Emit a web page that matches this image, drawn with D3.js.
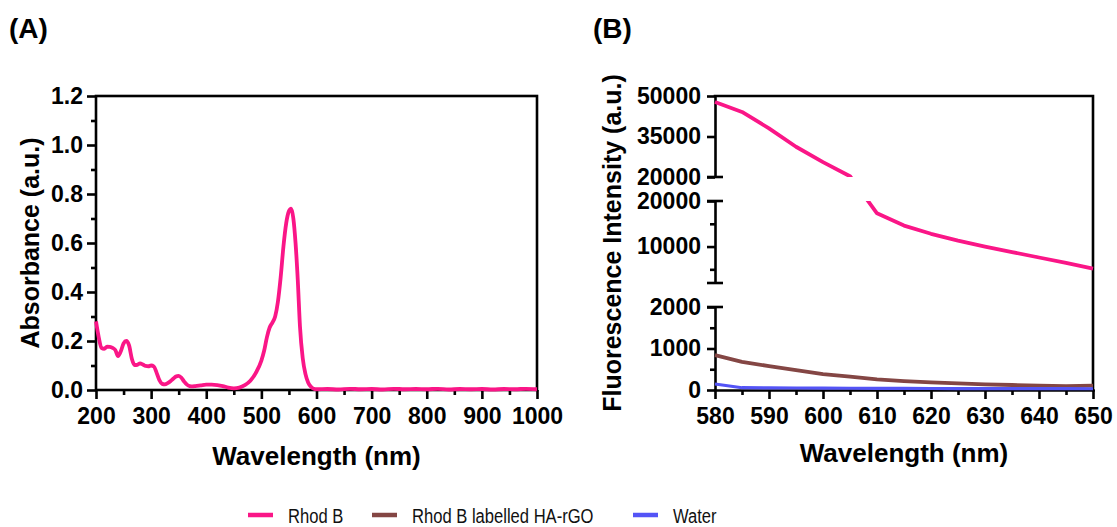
<!DOCTYPE html>
<html>
<head>
<meta charset="utf-8">
<script src="https://cdn.jsdelivr.net/npm/d3@7"></script>
<style>
  body { margin: 0; background: #fff; }
  svg { display: block; font-family: "Liberation Sans", Arial, Helvetica, sans-serif; }
</style>
</head>
<body>
<svg id="chart" width="1117" height="527"></svg>
<script>
// ---------- Panel A: UV-Vis absorbance of Rhodamine B ----------
const absWavelength = [200, 205, 210, 215, 220, 225, 230, 235, 240, 245, 250, 255, 260, 265, 270, 275, 280, 285, 290, 295,
  300, 305, 310, 315, 320, 325, 330, 335, 340, 345, 350, 355, 360, 365, 370, 375, 380, 390, 400, 410,
  420, 430, 440, 450, 460, 470, 480, 490, 500, 505, 510, 515, 520, 525, 530, 535, 540, 545, 550, 554,
  558, 562, 566, 570, 575, 580, 585, 590, 595, 600, 620, 640, 660, 680, 700, 720, 740, 760, 780, 800,
  820, 840, 860, 880, 900, 920, 940, 960, 980, 1000];
const absRhodB = [0.280, 0.215, 0.172, 0.168, 0.177, 0.176, 0.172, 0.163, 0.138, 0.158, 0.190, 0.200, 0.182, 0.128, 0.102, 0.103, 0.109, 0.104, 0.098, 0.097,
  0.100, 0.096, 0.070, 0.040, 0.025, 0.023, 0.028, 0.036, 0.046, 0.055, 0.058, 0.050, 0.034, 0.022, 0.016, 0.015, 0.016, 0.019, 0.022, 0.022,
  0.020, 0.016, 0.010, 0.007, 0.010, 0.020, 0.038, 0.070, 0.120, 0.160, 0.215, 0.255, 0.275, 0.300, 0.360, 0.460, 0.585, 0.680, 0.730, 0.740,
  0.700, 0.600, 0.450, 0.260, 0.130, 0.065, 0.030, 0.013, 0.005, 0.003, 0.004, 0.002, 0.005, 0.003, 0.004, 0.002, 0.005, 0.003, 0.004, 0.003,
  0.005, 0.002, 0.004, 0.003, 0.004, 0.002, 0.004, 0.003, 0.005, 0.003];
const absXTicks = [200, 300, 400, 500, 600, 700, 800, 900, 1000];
const absXMinorTicks = [250, 350, 450, 550, 650, 750, 850, 950];
const absYTicks = [0, 0.2, 0.4, 0.6, 0.8, 1.0, 1.2];
const absYMinorTicks = [0.1, 0.3, 0.5, 0.7, 0.9, 1.1];

// ---------- Panel B: fluorescence emission, 5 nm steps ----------
const flWavelength = [580, 585, 590, 595, 600, 605, 610, 615, 620, 625, 630, 635, 640, 645, 650];
const flRhodB = [47800, 44100, 38000, 31200, 25500, 20300, 17300, 14600, 12800, 11300, 10000, 8800, 7600, 6400, 5150];
const flRhodBHArGO = [840, 680, 575, 480, 385, 320, 258, 216, 184, 160, 136, 120, 104, 90, 104];
const flWater = [145, 55, 52, 48, 45, 42, 40, 38, 36, 35, 34, 33, 32, 31, 30];
const flXTicks = [580, 590, 600, 610, 620, 630, 640, 650];
const flXMinorTicks = [585, 595, 605, 615, 625, 635, 645];

// Broken y axis: three value ranges stacked top to bottom
const flRangeTop = [20000, 50000];
const flRangeMid = [2000, 20000];
const flRangeLow = [0, 2000];
const flYTicksTop = [20000, 35000, 50000];
const flYTicksMid = [10000, 20000];
const flYMinorMid = [5000, 15000];
const flYTicksLow = [0, 1000, 2000];
const flYMinorLow = [500, 1500];

const seriesNames = ["Rhod B", "Rhod B labelled HA-rGO", "Water"];
const seriesColors = ["#FA1687", "#844644", "#5454F6"];

// ---------- drawing ----------
const svg = d3.select("#chart");
const FONT = '"Liberation Sans", Arial, Helvetica, sans-serif';
const AXW = 2.6;

function styleAxis(g, fontSize) {
  g.attr("font-family", FONT).attr("font-size", fontSize).attr("font-weight", "bold");
  g.selectAll(".domain").attr("stroke", "#000").attr("stroke-width", AXW);
  g.selectAll(".tick line").attr("stroke", "#000").attr("stroke-width", AXW);
  g.selectAll(".tick text").attr("fill", "#000");
  return g;
}

function minorAxis(axis, values, size) {
  return axis.tickValues(values).tickSize(size).tickFormat("");
}

// ===== Panel A =====
const A = { left: 96, right: 537, top: 96, bottom: 390 };
const xA = d3.scaleLinear().domain([200, 1000]).range([A.left, A.right]);
const yA = d3.scaleLinear().domain([0, 1.2]).range([A.bottom, A.top]);

const gA = svg.append("g");

// frame
gA.append("rect")
  .attr("x", A.left).attr("y", A.top)
  .attr("width", A.right - A.left).attr("height", A.bottom - A.top)
  .attr("fill", "none").attr("stroke", "#000").attr("stroke-width", AXW);

styleAxis(gA.append("g").attr("transform", `translate(0,${A.bottom})`)
  .call(d3.axisBottom(xA).tickValues(absXTicks).tickSize(9).tickPadding(9).tickSizeOuter(0).tickFormat(d3.format("d"))), 23)
  .select(".domain").remove();
styleAxis(gA.append("g").attr("transform", `translate(0,${A.bottom})`)
  .call(minorAxis(d3.axisBottom(xA), absXMinorTicks, 5)), 23)
  .select(".domain").remove();
styleAxis(gA.append("g").attr("transform", `translate(${A.left},0)`)
  .call(d3.axisLeft(yA).tickValues(absYTicks).tickSize(9).tickPadding(4).tickSizeOuter(0).tickFormat(d3.format(".1f"))), 23)
  .select(".domain").remove();
styleAxis(gA.append("g").attr("transform", `translate(${A.left},0)`)
  .call(minorAxis(d3.axisLeft(yA), absYMinorTicks, 5)), 23)
  .select(".domain").remove();

const absData = absWavelength.map((w, i) => ({ x: w, y: absRhodB[i] }));
gA.append("path")
  .datum(absData)
  .attr("fill", "none")
  .attr("stroke", seriesColors[0])
  .attr("stroke-width", 3.8)
  .attr("stroke-linejoin", "round")
  .attr("d", d3.line().x(d => xA(d.x)).y(d => yA(d.y)).curve(d3.curveMonotoneX));

gA.append("text")
  .attr("x", (A.left + A.right) / 2).attr("y", 465)
  .attr("text-anchor", "middle")
  .attr("font-size", 26).attr("font-weight", "bold").attr("font-family", FONT)
  .text("Wavelength (nm)");
gA.append("text")
  .attr("transform", `translate(39,${(A.top + A.bottom) / 2}) rotate(-90)`)
  .attr("text-anchor", "middle")
  .attr("font-size", 25).attr("font-weight", "bold").attr("font-family", FONT)
  .text("Absorbance (a.u.)");
gA.append("text")
  .attr("x", 9).attr("y", 38)
  .attr("font-size", 28).attr("font-weight", "bold").attr("font-family", FONT)
  .text("(A)");

// ===== Panel B =====
const B = { left: 715, right: 1093, top: 96, bottom: 390 };
const xB = d3.scaleLinear().domain([580, 650]).range([B.left, B.right]);
const segTop = d3.scaleLinear().domain(flRangeTop).range([177, B.top]);
const segMid = d3.scaleLinear().domain(flRangeMid).range([283, 201]);
const segLow = d3.scaleLinear().domain(flRangeLow).range([B.bottom, 307]);
function yB(v) {
  if (v >= flRangeTop[0]) return segTop(v);
  if (v >= flRangeMid[0]) return segMid(v);
  return segLow(v);
}

const gB = svg.append("g");

// top and right frame edges
gB.append("path")
  .attr("d", `M${B.left},${B.top}H${B.right}V${B.bottom}`)
  .attr("fill", "none").attr("stroke", "#000").attr("stroke-width", AXW)
  .attr("stroke-linecap", "square");

styleAxis(gB.append("g").attr("transform", `translate(0,${B.bottom})`)
  .call(d3.axisBottom(xB).tickValues(flXTicks).tickSize(9).tickPadding(9).tickSizeOuter(0).tickFormat(d3.format("d"))), 23)
  .select(".domain").attr("stroke-linecap", "square");
styleAxis(gB.append("g").attr("transform", `translate(0,${B.bottom})`)
  .call(minorAxis(d3.axisBottom(xB), flXMinorTicks, 5)), 23)
  .select(".domain").remove();

const segTicks = [
  { scale: segTop, major: flYTicksTop, minor: [] },
  { scale: segMid, major: flYTicksMid, minor: flYMinorMid },
  { scale: segLow, major: flYTicksLow, minor: flYMinorLow }
];
segTicks.forEach(s => {
  styleAxis(gB.append("g").attr("transform", `translate(${B.left},0)`)
    .call(d3.axisLeft(s.scale).tickValues(s.major).tickSize(8).tickPadding(6).tickSizeOuter(0).tickFormat(d3.format("d"))), 23);
  if (s.minor.length) {
    styleAxis(gB.append("g").attr("transform", `translate(${B.left},0)`)
      .call(minorAxis(d3.axisLeft(s.scale), s.minor, 5)), 23)
      .select(".domain").remove();
  }
});

// break caps at the inner ends of each axis segment
const capValues = [
  segTop(flRangeTop[0]), segMid(flRangeMid[1]),
  segMid(flRangeMid[0]), segLow(flRangeLow[1])
];
gB.selectAll("line.cap").data(capValues).join("line")
  .attr("class", "cap")
  .attr("x1", B.left - 8).attr("x2", B.left + 8)
  .attr("y1", d => d).attr("y2", d => d)
  .attr("stroke", "#000").attr("stroke-width", AXW);

// clip data to the visible bands of the broken axis
const clip = svg.append("defs").append("clipPath").attr("id", "bands");
[[B.top - 4, segTop(flRangeTop[0])], [segMid(flRangeMid[1]), segMid(flRangeMid[0])], [segLow(flRangeLow[1]), B.bottom + 4]]
  .forEach(([y0, y1]) => {
    clip.append("rect").attr("x", B.left - 2).attr("y", y0)
      .attr("width", B.right - B.left + 4).attr("height", y1 - y0);
  });

const flSeries = [flRhodB, flRhodBHArGO, flWater];
const lineB = d3.line().x(d => xB(d.x)).y(d => yB(d.y));
const gLines = gB.append("g").attr("clip-path", "url(#bands)");
flSeries.forEach((vals, i) => {
  gLines.append("path")
    .datum(flWavelength.map((w, j) => ({ x: w, y: vals[j] })))
    .attr("fill", "none")
    .attr("stroke", seriesColors[i])
    .attr("stroke-width", i === 2 ? 3.2 : 3.8)
    .attr("stroke-linejoin", "round")
    .attr("d", lineB);
});

gB.append("text")
  .attr("x", (B.left + B.right) / 2).attr("y", 462)
  .attr("text-anchor", "middle")
  .attr("font-size", 26).attr("font-weight", "bold").attr("font-family", FONT)
  .text("Wavelength (nm)");
gB.append("text")
  .attr("transform", `translate(621,${(B.top + B.bottom) / 2}) rotate(-90)`)
  .attr("text-anchor", "middle")
  .attr("font-size", 25).attr("font-weight", "bold").attr("font-family", FONT)
  .text("Fluorescence Intensity (a.u.)");
gB.append("text")
  .attr("x", 593).attr("y", 38)
  .attr("font-size", 28).attr("font-weight", "bold").attr("font-family", FONT)
  .text("(B)");

// ===== Legend =====
const legendX = [248, 372, 633];
const gL = svg.append("g");
seriesNames.forEach((name, i) => {
  gL.append("line")
    .attr("x1", legendX[i]).attr("x2", legendX[i] + 25)
    .attr("y1", 515).attr("y2", 515)
    .attr("stroke", seriesColors[i]).attr("stroke-width", 4.5);
  gL.append("text")
    .attr("transform", `translate(${legendX[i] + 40},523) scale(0.79,1)`)
    .attr("font-size", 21).attr("font-family", FONT).attr("fill", "#111")
    .text(name);
});
</script>
</body>
</html>
